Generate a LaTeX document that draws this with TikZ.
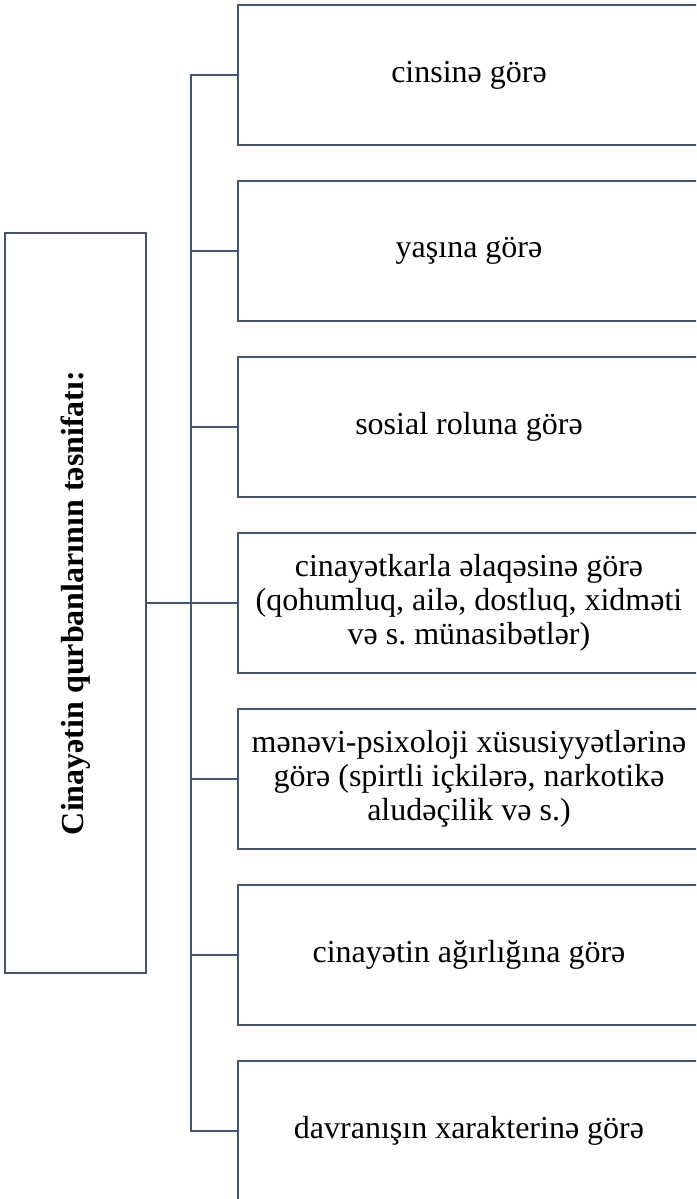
\documentclass[tikz,border=0pt]{standalone}
\usepackage{fontspec}
\setmainfont{Liberation Serif}
\usetikzlibrary{positioning}
\definecolor{boxline}{HTML}{44546A}
\frenchspacing

\begin{document}
\begin{tikzpicture}[x=1pt,y=-1pt,node distance=176pt,on grid,
  catbox/.style={draw=boxline,line width=2pt,minimum width=462pt,minimum height=140pt,
    align=center,font=\fontsize{32}{34}\selectfont},
  rootbox/.style={draw=boxline,line width=2pt,minimum width=740pt,minimum height=141pt,
    rotate=90,font=\fontsize{32}{34}\selectfont\bfseries},
  link/.style={draw=boxline,line width=2pt}]
  \useasboundingbox (0,0) rectangle (696,1199);
  \clip (0,0) rectangle (696,1199);

  \node[rootbox] (root) at (75.5,603) {Cinayətin qurbanlarının təsnifatı:};

  \node[catbox] (b1) at (469,75) {cinsinə görə};
  \node[catbox] (b2) [below=of b1] {yaşına görə};
  \node[catbox] (b3) [below=of b2] {sosial roluna görə};
  \node[catbox] (b4) [below=of b3] {cinayətkarla əlaqəsinə görə\\(qohumluq, ailə, dostluq, xidməti\\və s. münasibətlər)};
  \node[catbox] (b5) [below=of b4] {mənəvi-psixoloji xüsusiyyətlərinə\\görə (spirtli içkilərə, narkotikə\\aludəçilik və s.)};
  \node[catbox] (b6) [below=of b5] {cinayətin ağırlığına görə};
  \node[catbox] (b7) [below=of b6] {davranışın xarakterinə görə};

  \draw[link] (b1.west) -- ++(-46,0) coordinate (trunk) |- (b7.west);
  \foreach \k in {2,...,6}
    \draw[link] (b\k.west) -- (b\k.west -| trunk);
  \draw[link] (root.south) -- (root.south -| trunk);
\end{tikzpicture}
\end{document}
